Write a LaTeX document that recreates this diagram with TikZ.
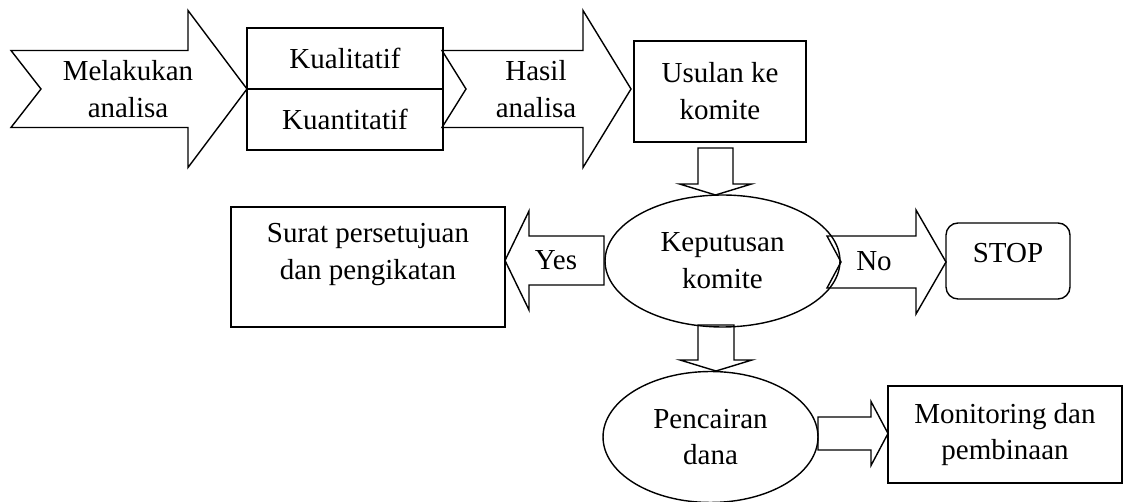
\documentclass[tikz,border=0pt]{standalone}
\usepackage{fontspec}
\setmainfont{Liberation Serif}
\usetikzlibrary{positioning}
\usetikzlibrary{calc}
\usetikzlibrary{shapes.geometric}

\tikzset{
	box/.style={draw, rectangle, line width=0.8pt, outer sep=0pt, inner sep=0pt, align=center},
	oval/.style={draw, ellipse, line width=0.8pt, inner sep=0pt, align=center},
	lbl/.style={align=center, inner sep=0pt},
	% block arrow: length / shaft half / head half / head length / notch
	pics/blockarr/.style args={#1/#2/#3/#4/#5}{code={
		\draw[line width=0.8pt] (0,#2) -- ({#1-#4},#2) -- ({#1-#4},#3) -- (#1,0)
			-- ({#1-#4},-#3) -- ({#1-#4},-#2) -- (0,-#2) -- (#5,0) -- cycle;
	}}
}

\begin{document}
\begin{tikzpicture}[x=0.02cm, y=-0.02cm, font=\fontsize{16.5}{21}\selectfont]
				\useasboundingbox (0,0) rectangle (1123,502);
				% first row
				\pic at (11,89) {blockarr=236/38.5/78.5/59/30};
				\node[lbl] (melakukan) at (128,89) {Melakukan\\analisa};
				\node[box, minimum width=3.92cm, minimum height=1.22cm] (kual) at (345,58.5) {Kualitatif};
				\node[box, minimum width=3.92cm, minimum height=1.22cm, below=0pt of kual] (kuan) {Kuantitatif};
				\pic at (442,89) {blockarr=189/38.5/78.5/48/24};
				\node[lbl] (hasil) at (536,89) {Hasil\\analisa};
				\node[box, minimum width=3.44cm, minimum height=2.02cm] (usulan) at (720,91.5) {Usulan ke\\komite};
				
				% committee decision
				\pic[rotate=-90] at (715.5,148) {blockarr=47/17.5/36/11/0};
				\node[oval, minimum width=4.7cm, minimum height=2.64cm] (keputusan) at (722.5,261) {Keputusan\\komite};
				
				% yes branch
				\pic[rotate=180] at (604,260.5) {blockarr=99/24.5/49.5/24/0};
				\node[lbl] (yes) at (556,260) {Yes};
				\node[box, minimum width=5.48cm, minimum height=2.4cm] (surat) at (368,267) {};
				\node[lbl, anchor=north] (surattxt) at ($(surat.north)+(0,16)$) {Surat persetujuan\\dan pengikatan};
				
				% no branch
				\pic at (827,262) {blockarr=119/26/52/30/14};
				\node[lbl] (no) at (874,261) {No};
				\node[box, rounded corners=0.24cm, minimum width=2.48cm, minimum height=1.52cm] (stop) at (1008,261) {};
				\node[lbl, anchor=north] (stoptxt) at ($(stop.north)+(0,20)$) {STOP};
				
				% disbursement
				\pic[rotate=-90] at (716,325) {blockarr=46/18/36/11/0};
				\node[oval, minimum width=4.3cm, minimum height=2.62cm] (pencairan) at (710.5,437) {Pencairan\\dana};
				\pic at (818,433.5) {blockarr=70/16.5/32/17/0};
				\node[box, minimum width=4.68cm, minimum height=1.94cm] (monitoring) at (1005,434.5) {Monitoring dan\\pembinaan};
\end{tikzpicture}
\end{document}
